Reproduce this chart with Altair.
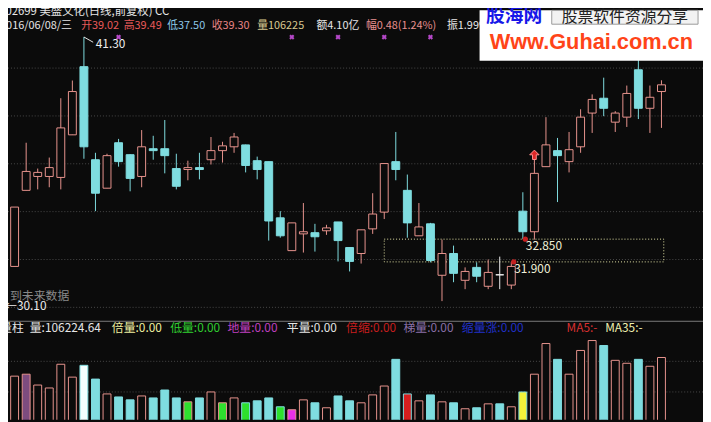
import altair as alt
import pandas as pd

# ---------------- data ----------------
opens = [30.30, 31.71, 34.89, 35.47, 35.47, 35.43, 37.21, 40.06, 36.17, 34.98,
         36.88, 36.38, 35.47, 36.63, 36.63, 35.80, 35.76, 35.84, 36.17, 36.55,
         36.71, 36.79, 36.13, 36.09, 33.74, 32.37, 33.07, 33.12, 33.20, 33.57,
         32.50, 32.25, 33.28, 33.98, 36.09, 34.89, 32.99, 33.49, 31.34, 32.25,
         31.13, 31.67, 30.88, 31.36, 30.93, 34.02, 33.16, 35.88, 36.55, 36.09,
         36.71, 38.12, 38.74, 37.74, 37.95, 39.93, 38.32, 39.02]
closes = [31.59, 34.19, 35.68, 35.64, 35.84, 37.50, 39.02, 36.71, 34.77, 36.34,
          36.09, 35.39, 36.71, 36.55, 36.34, 35.06, 35.84, 35.76, 36.55, 36.75,
          37.12, 35.93, 35.76, 33.61, 32.99, 33.53, 33.16, 32.95, 33.32, 32.79,
          31.92, 33.24, 33.90, 36.01, 35.76, 33.53, 33.36, 31.96, 32.25, 31.42,
          31.50, 31.30, 31.46, 31.36, 31.71, 33.16, 35.60, 36.79, 36.34, 36.59,
          37.95, 38.69, 38.32, 38.12, 38.94, 38.32, 38.78, 39.30]
highs = [32.08, 34.19, 36.88, 35.80, 36.26, 38.74, 39.48, 41.30, 36.46, 36.42,
         37.04, 36.40, 37.41, 37.17, 37.83, 36.42, 36.13, 36.46, 37.12, 36.92,
         37.29, 36.80, 36.30, 36.09, 34.02, 33.53, 34.36, 33.49, 33.45, 33.57,
         32.50, 33.24, 34.77, 36.01, 37.33, 35.55, 34.36, 33.53, 32.83, 32.58,
         31.67, 31.88, 32.00, 32.12, 31.90, 34.81, 36.21, 37.95, 37.08, 37.33,
         38.28, 38.90, 39.60, 38.20, 39.27, 40.35, 39.27, 39.49]
lows = [30.10, 31.71, 34.89, 34.93, 35.02, 34.93, 37.21, 36.21, 34.02, 34.98,
        35.88, 34.85, 35.02, 36.17, 35.60, 34.93, 35.31, 35.35, 35.97, 36.05,
        36.46, 35.64, 35.35, 32.79, 32.91, 32.37, 32.29, 32.33, 33.03, 31.92,
        31.50, 31.83, 33.07, 33.69, 35.31, 32.91, 32.99, 31.88, 30.26, 31.05,
        30.76, 31.05, 30.76, 30.76, 30.76, 32.85, 32.83, 35.88, 34.40, 35.64,
        36.46, 37.29, 37.99, 37.33, 37.54, 37.87, 37.29, 37.50]
volumes = [64500, 75800, 79000, 61300, 56500, 95200, 74200, 93500, 71000, 46800,
           41900, 37100, 43500, 40300, 53200, 40300, 33900, 40300, 50000, 32300,
           40300, 32300, 35500, 40300, 25800, 21000, 37100, 32300, 24200, 43500,
           35500, 32300, 45200, 59700, 103200, 46800, 35500, 45200, 33900, 32300,
           22600, 24200, 30600, 30600, 25800, 50000, 79000, 129000, 103200, 79000,
           117700, 133900, 125800, 101600, 96800, 103200, 91900, 106225]
vol_tags = ["倍量", "", "梯量", "", "", "", "", "平量", "", "",
            "", "", "", "", "", "", "低量", "", "", "低量",
            "", "低量", "", "", "低量", "地量", "", "", "", "",
            "", "", "", "", "", "倍缩", "", "", "", "",
            "", "", "", "", "", "倍量", "", "", "", "",
            "", "", "", "", "", "", "", ""]

grid_prices = [30, 32, 34, 36, 38, 40]
grid_vols = [50000, 100000]
marker_idx = [10, 25, 29, 33, 37]
box_idx = [33, 57.2]
box_levels = [32.85, 31.90]
level_idx = [45, 44]
level_vals = [32.85, 31.90]
level_labels = ["32.850", "31.900"]
peak_idx, peak_val, peak_label = [7], [41.30], ["41.30"]
trough_idx, trough_val, trough_label = [0], [30.10], ["←30.10"]
signal_idx, signal_val = [46], [36.21]

# ---------------- layout constants ----------------
W, H = 703, 414
X_DOM = [0.428, 60.596]
P_DOM = [25.306, 42.413]
V_DOM = [4839, 672580]
BG = "#0b0b0b"
UP = "#e8948e"
DN = "#7fdde0"
FONT = "Noto Sans CJK SC"
FS = 11

df = pd.DataFrame({"i": list(range(len(opens))), "open": opens, "high": highs,
                   "low": lows, "close": closes, "vol": volumes, "tag": vol_tags})


def xs(field):
    return alt.X(field, type="quantitative", axis=None,
                 scale=alt.Scale(domain=X_DOM, zero=False, nice=False))


def ps(field):
    return alt.Y(field, type="quantitative", axis=None,
                 scale=alt.Scale(domain=P_DOM, zero=False, nice=False))


def vs(field):
    return alt.Y(field, type="quantitative", axis=None,
                 scale=alt.Scale(domain=V_DOM, zero=False, nice=False))


base = alt.Chart(df).transform_calculate(
    xl="datum.i - 0.342",
    xr="datum.i + 0.342",
    zero="0",
    linec=f"datum.close > datum.open ? '{UP}' : (datum.close < datum.open ? '{DN}' : '#f2f2f2')",
    bodyfill=f"datum.close > datum.open ? '{BG}' : (datum.close < datum.open ? '{DN}' : '#f2f2f2')",
    vstroke=f"datum.close > datum.open ? '{UP}' : '{DN}'",
    vfill=("datum.tag == '倍量' ? '#f2f23a' : datum.tag == '梯量' ? '#7d4c7f' : "
           "datum.tag == '平量' ? '#f4ffff' : datum.tag == '低量' ? '#2ee02e' : "
           "datum.tag == '地量' ? '#e830e8' : datum.tag == '倍缩' ? '#d81e1e' : "
           f"(datum.close > datum.open ? '{BG}' : '{DN}')"),
)

layers = []

# price grid
layers.append(alt.Chart(pd.DataFrame({"p": grid_prices})).mark_rule(
    color="#4a4a4a", strokeDash=[1, 2], strokeWidth=1).encode(y=ps("p")))
# volume grid
layers.append(alt.Chart(pd.DataFrame({"v": grid_vols})).mark_rule(
    color="#4a4a4a", strokeDash=[1, 2], strokeWidth=1).encode(y=vs("v")))

# dotted box
layers.append(alt.Chart(pd.DataFrame({"x1": [box_idx[0]], "x2": [box_idx[1]],
                                      "y1": [box_levels[0]], "y2": [box_levels[1]]}))
              .mark_rect(fill=BG, fillOpacity=0, stroke="#e6e6a8", strokeDash=[1, 2], strokeWidth=1)
              .encode(x=xs("x1"), x2="x2:Q", y=ps("y1"), y2="y2:Q"))

# wicks
layers.append(base.mark_rule(strokeWidth=1, clip=True).encode(
    x=xs("i"), y=ps("low"), y2="high:Q", color=alt.Color("linec:N", scale=None)))
# bodies
layers.append(base.mark_rect(strokeWidth=1, clip=True).encode(
    x=xs("xl"), x2="xr:Q", y=ps("open"), y2="close:Q",
    fill=alt.Fill("bodyfill:N", scale=None), stroke=alt.Stroke("linec:N", scale=None)))

# volume bars
layers.append(base.mark_rect(strokeWidth=1, clip=True).encode(
    x=xs("xl"), x2="xr:Q", y=vs("vol"), y2="zero:Q",
    fill=alt.Fill("vfill:N", scale=None), stroke=alt.Stroke("vstroke:N", scale=None)))

# separator between panels
layers.append(alt.Chart(pd.DataFrame({"a": [0]})).mark_rule(color="#7a7a7a", strokeWidth=1)
              .encode(y=alt.value(314.5)))

# peak annotation
peak_df = pd.DataFrame({"i": peak_idx, "v": peak_val, "t": peak_label})
layers.append(alt.Chart(peak_df).transform_calculate(i2="datum.i + 0.8", v2="datum.v - 0.22")
              .mark_rule(color="#e8e8e8", strokeWidth=1)
              .encode(x=xs("i"), x2="i2:Q", y=ps("v"), y2="v2:Q"))
layers.append(alt.Chart(peak_df).mark_text(align="left", baseline="middle", dx=12, dy=7,
                                           color="#eeeeee", fontSize=12, font=FONT)
              .encode(x=xs("i"), y=ps("v"), text="t:N"))
# trough annotation
layers.append(alt.Chart(pd.DataFrame({"i": trough_idx, "v": trough_val, "t": trough_label}))
              .mark_text(align="left", baseline="middle", dx=2, dy=1, color="#eeeeee",
                         fontSize=12, font=FONT)
              .encode(x=xs("i"), y=ps("v"), text="t:N"))

# level dots and labels
lvl_df = pd.DataFrame({"i": level_idx, "v": level_vals, "t": level_labels})
layers.append(alt.Chart(lvl_df).mark_circle(color="#c42020", size=28, opacity=1, xOffset=2.5)
              .encode(x=xs("i"), y=ps("v")))
layers.append(alt.Chart(lvl_df).mark_text(align="left", baseline="middle", dx=3, dy=7,
                                          color="#f0f0d8", fontSize=12, font=FONT)
              .encode(x=xs("i"), y=ps("v"), text="t:N"))

# buy-signal arrow
arrow_path = "M0,-1L1,0L0.4,0L0.4,1L-0.4,1L-0.4,0L-1,0Z"
layers.append(alt.Chart(pd.DataFrame({"i": signal_idx, "v": signal_val}))
              .mark_point(shape=arrow_path, filled=True, size=90, fill="#e02828",
                          stroke="#ff9090", strokeWidth=1, opacity=1, yOffset=-4)
              .encode(x=xs("i"), y=ps("v")))

# purple top markers
layers.append(alt.Chart(pd.DataFrame({"i": marker_idx}))
              .mark_point(shape="cross", angle=45, filled=True, size=28, color="#b548c8", opacity=1)
              .encode(x=xs("i"), y=alt.value(27)))


def label(text, x, y, color, size=FS, weight="normal", font=FONT, align="left"):
    return alt.Chart(pd.DataFrame({"t": [text]})).mark_text(
        align=align, baseline="middle", color=color, fontSize=size, font=font,
        fontWeight=weight).encode(x=alt.value(x), y=alt.value(y), text="t:N")


# gray overlay text
layers.append(label("到未来数据", 2, 289, "#8a8a8a", size=12))

# header line 1 and 2
layers.append(label("002699 美盛文化(日线,前复权) CC", -9, 2, "#e6e6e6", size=11.5))
hdr = [("2016/06/08/三", -8, "#e6e6e6"), ("开39.02", 74, "#e85a5a"), ("高39.49", 117, "#e85a5a"),
       ("低37.50", 161, "#8cc8e8"), ("收39.30", 206, "#e88484"), ("量106225", 252, "#d8c890"),
       ("额4.10亿", 312, "#e6e6e6"), ("幅0.48(1.24%)", 362, "#e89090"), ("振1.99%", 444, "#e6e6e6")]
for t, x, c in hdr:
    layers.append(label(t, x, 16, c))

# volume header
vh = [("量柱", -8, "#e6e6e6"), ("量:106224.64", 22, "#e6e6e6"), ("倍量:0.00", 105, "#f0f0a0"),
      ("低量:0.00", 164, "#30d030"), ("地量:0.00", 222, "#c040c0"), ("平量:0.00", 282, "#e6e6e6"),
      ("倍缩:0.00", 342, "#c81e1e"), ("梯量:0.00", 400, "#8a70a8"), ("缩量涨:0.00", 459, "#2030c8"),
      ("MA5:-", 565, "#d83030"), ("MA35:-", 604, "#f0f0b0")]
for t, x, c in vh:
    layers.append(label(t, x, 321, c, size=12))

# watermark
layers.append(alt.Chart(pd.DataFrame({"a": [0]})).mark_rect(color="#ffffff")
              .encode(x=alt.value(477), x2=alt.value(703), y=alt.value(0), y2=alt.value(51)))
layers.append(alt.Chart(pd.DataFrame({"a": [0]})).mark_rect(fill="#f2f2f2", stroke="#9a9a9a", strokeWidth=1)
              .encode(x=alt.value(550), x2=alt.value(698), y=alt.value(0), y2=alt.value(14)))
layers.append(label("股海网", 512, 6, "#1818e8", size=19, weight="bold", align="center"))
layers.append(label("股票软件资源分享", 624, 7, "#222222", size=16, align="center"))
layers.append(label("Www.Guhai.com.cn", 590, 32, "#ff4418", size=22, weight="bold",
                    font="Liberation Sans", align="center"))

chart = alt.layer(*layers).resolve_scale(y="independent").properties(
    width=W, height=H, padding=0, background=BG,
    autosize=alt.AutoSizeParams(type="none"),
).configure_view(strokeWidth=0)

chart.save("out.html", embed_options={"renderer": "svg", "actions": False})
